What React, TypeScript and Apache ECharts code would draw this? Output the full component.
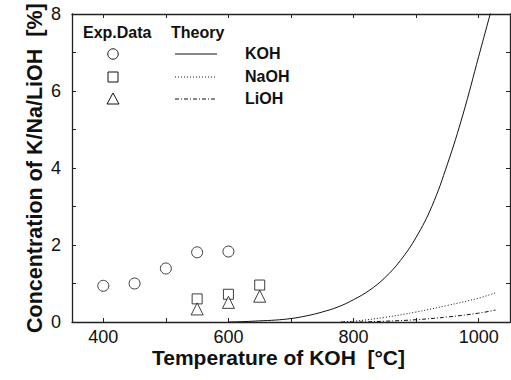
import React, { useEffect, useRef } from "react";
import * as echarts from "echarts";

const expKOH_T = [400, 450, 500, 550, 600];
const expKOH_V = [0.94, 1.0, 1.39, 1.81, 1.83];
const expNaOH_T = [550, 600, 650];
const expNaOH_V = [0.6, 0.72, 0.96];
const expLiOH_T = [550, 600, 650];
const expLiOH_V = [0.34, 0.51, 0.67];

const thKOH_T = [600, 625, 650, 675, 700, 725, 750, 775, 800, 825, 850, 875, 900, 925, 950, 975, 1000, 1020];
const thKOH_V = [0.0, 0.01, 0.03, 0.05, 0.09, 0.16, 0.26, 0.39, 0.58, 0.82, 1.15, 1.6, 2.2, 3.0, 4.1, 5.4, 6.9, 8.1];
const thNaOH_T = [780, 800, 850, 900, 950, 1000, 1027];
const thNaOH_V = [0.0, 0.02, 0.12, 0.26, 0.43, 0.62, 0.76];
const thLiOH_T = [780, 800, 850, 900, 950, 1000, 1027];
const thLiOH_V = [0.0, 0.0, 0.02, 0.06, 0.13, 0.23, 0.31];

const xTickValues = [400, 500, 600, 700, 800, 900, 1000];
const xLabelValues = [400, 600, 800, 1000];

const legendRows = ["KOH", "NaOH", "LiOH"];

const zip = (a: number[], b: number[]) => a.map((v, i) => [v, b[i]]);

export default function App() {
  const ref = useRef<HTMLDivElement>(null);
  useEffect(() => {
    if (!ref.current) return;
    const chart = echarts.init(ref.current, null, { renderer: "svg" });
    const axisColor = "#222";
    const font = "Liberation Sans, Arial, Helvetica, sans-serif";
    const mkX = (pos: "bottom" | "top", labels: boolean) => ({
      type: "value",
      position: pos,
      min: 350,
      max: 1050,
      axisLine: { show: true, onZero: false, lineStyle: { color: axisColor, width: 1.3 } },
      axisTick: { show: true, inside: true, length: 4, customValues: xTickValues, lineStyle: { color: axisColor } },
      axisLabel: {
        show: labels,
        customValues: xLabelValues,
        color: "#111",
        fontSize: 18,
        fontFamily: font,
        margin: 6,
        formatter: (v: number) => String(v),
      },
      splitLine: { show: false },
    });
    const mkY = (pos: "left" | "right", labels: boolean) => ({
      type: "value",
      position: pos,
      min: 0,
      max: 8,
      interval: 1,
      axisLine: { show: true, onZero: false, lineStyle: { color: axisColor, width: 1.3 } },
      axisTick: { show: true, inside: true, length: 4, lineStyle: { color: axisColor } },
      axisLabel: {
        show: labels,
        color: "#111",
        fontSize: 18,
        fontFamily: font,
        margin: 11,
        formatter: (v: number) => (v % 2 === 0 ? String(v) : ""),
      },
      splitLine: { show: false },
    });

    const legendY = [54, 77, 99];
    const graphics: any[] = [
      { type: "text", left: 83, top: 24, style: { text: "Exp.Data", font: `bold 16px ${font}`, fill: "#111" } },
      { type: "text", left: 171, top: 24, style: { text: "Theory", font: `bold 16px ${font}`, fill: "#111" } },
      { type: "circle", shape: { cx: 113, cy: legendY[0], r: 5.2 }, style: { fill: "#fff", stroke: "#111", lineWidth: 1 } },
      { type: "rect", shape: { x: 108, y: legendY[1] - 5, width: 10, height: 10 }, style: { fill: "#fff", stroke: "#111", lineWidth: 1 } },
      {
        type: "polygon",
        shape: { points: [[113, legendY[2] - 6], [107, legendY[2] + 5], [119, legendY[2] + 5]] },
        style: { fill: "#fff", stroke: "#111", lineWidth: 1 },
      },
      { type: "line", shape: { x1: 175, y1: legendY[0], x2: 217, y2: legendY[0] }, style: { stroke: "#111", lineWidth: 1 } },
      { type: "line", shape: { x1: 175, y1: legendY[1], x2: 217, y2: legendY[1] }, style: { stroke: "#111", lineWidth: 1, lineDash: [1, 2] } },
      { type: "line", shape: { x1: 175, y1: legendY[2], x2: 217, y2: legendY[2] }, style: { stroke: "#111", lineWidth: 1, lineDash: [4, 2, 1, 2] } },
      ...legendRows.map((t, i) => ({
        type: "text",
        left: 245,
        top: legendY[i] - 9,
        style: { text: t, font: `bold 16px ${font}`, fill: "#111" },
      })),
      {
        type: "text",
        left: 152,
        top: 347,
        style: { text: "Temperature of KOH  [°C]", font: `bold 21px ${font}`, fill: "#111" },
      },
      {
        type: "text",
        x: 24,
        y: 333,
        rotation: Math.PI / 2,
        style: { text: "Concentration of K/Na/LiOH  [%]", font: `bold 21.5px ${font}`, fill: "#111" },
      },
    ];

    const scatter = (data: number[][], symbol: string, size: number) => ({
      type: "scatter",
      data,
      symbol,
      symbolSize: size,
      itemStyle: { color: "#fff", borderColor: "#111", borderWidth: 1 },
      z: 5,
    });
    const line = (data: number[][], type: any) => ({
      type: "line",
      data,
      showSymbol: false,
      symbol: "none",
      smooth: 0.4,
      lineStyle: { color: "#111", width: 1, type },
    });

    chart.setOption({
      animation: false,
      grid: { left: 72, right: 1, top: 14, bottom: 58 },
      xAxis: [mkX("bottom", true), mkX("top", false)],
      yAxis: [mkY("left", true), mkY("right", false)],
      graphic: graphics,
      series: [
        line(zip(thKOH_T, thKOH_V), "solid"),
        line(zip(thNaOH_T, thNaOH_V), [1, 2]),
        line(zip(thLiOH_T, thLiOH_V), [4, 2, 1, 2]),
        scatter(zip(expKOH_T, expKOH_V), "circle", 11),
        scatter(zip(expNaOH_T, expNaOH_V), "rect", 10),
        scatter(zip(expLiOH_T, expLiOH_V), "triangle", 12),
      ],
    });
    return () => chart.dispose();
  }, []);
  return <div ref={ref} style={{ position: "fixed", left: 0, top: 0, width: 511, height: 380, background: "#fff" }} />;
}
